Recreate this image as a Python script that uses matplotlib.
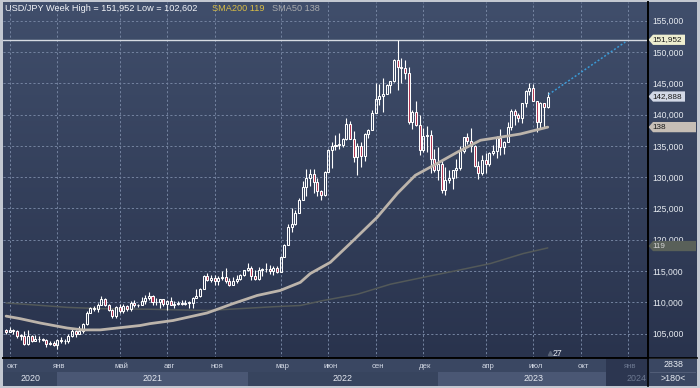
import numpy as np
import pandas as pd
import matplotlib
matplotlib.use("Agg")
import matplotlib.pyplot as plt
from matplotlib.patches import Polygon, Rectangle
from matplotlib.colors import LinearSegmentedColormap
from matplotlib.lines import Line2D
import matplotlib.transforms as mtransforms

# ---------------- data ----------------
weeks = pd.date_range("2020-09-28", periods=149, freq="W-MON")

opens = [105.6,105.3,105.6,105.4,104.7,104.65,103.35,104.6,103.85,104.1,104.15,104.0,103.3,103.5,
 103.25,103.95,103.85,103.8,104.7,105.4,104.95,105.4,106.55,108.35,109.05,108.9,109.65,110.6,109.65,108.8,
 107.9,109.3,108.6,109.35,108.95,109.85,109.5,109.65,110.2,110.75,111.05,110.1,110.05,110.55,109.7,110.25,
 109.6,109.8,109.85,109.7,109.95,109.95,110.75,111.05,112.2,114.2,113.5,113.95,113.4,113.9,114.0,113.4,
 112.8,113.4,113.7,114.4,
 115.1,115.55,114.2,113.7,115.25,115.3,115.4,115.0,115.55,114.8,117.3,119.15,122.05,122.5,124.35,126.4,
 128.5,129.85,130.55,129.2,127.85,127.1,130.9,134.4,135.0,135.2,135.2,136.1,138.55,136.1,133.25,135.0,
 133.45,136.9,137.6,140.2,142.55,142.9,143.35,144.75,145.3,148.7,147.65,147.45,146.6,138.8,140.4,138.3,
 134.3,136.6,136.7,132.9,
 131.1,132.1,127.9,129.6,129.85,131.2,131.4,134.15,136.4,135.85,135.0,131.85,130.7,132.8,132.15,133.8,
 134.15,136.3,134.85,135.7,137.95,140.6,139.95,139.4,141.8,143.7,144.3,142.1,138.8,141.8,141.15]

highs = [105.8,106.1,105.75,105.55,105.0,105.35,105.65,104.75,104.75,104.7,104.3,104.15,103.9,103.8,
 104.1,104.4,104.1,104.95,105.75,105.6,106.2,106.7,108.65,109.25,109.35,109.85,110.95,110.7,109.8,108.9,
 109.4,109.7,109.8,109.5,110.2,110.3,109.8,110.8,111.1,111.65,111.1,110.7,110.6,110.6,110.35,110.8,
 110.2,110.25,110.4,110.45,110.2,110.8,112.1,112.25,114.45,114.7,114.3,114.45,114.2,114.95,115.5,113.9,
 114.0,114.3,114.6,115.2,
 116.35,115.8,115.1,115.7,115.45,116.35,115.9,115.8,115.8,117.35,119.4,122.45,125.1,124.7,126.7,129.4,
 131.25,131.35,131.35,129.8,127.95,131.0,134.55,135.6,136.7,137.0,136.3,139.4,138.9,137.45,135.5,135.6,
 137.0,137.7,140.8,145.0,144.95,145.9,144.9,145.4,148.85,151.952,149.0,148.8,147.6,140.8,142.25,139.9,
 137.85,138.2,137.5,134.5,
 134.8,132.9,131.6,131.1,131.2,132.9,135.0,136.5,137.1,137.9,135.1,132.65,133.55,133.8,134.0,135.1,
 136.55,137.75,135.75,138.75,140.9,140.9,140.2,141.9,143.85,145.05,144.9,142.2,142.0,141.9,143.55]

lows = [104.95,105.3,104.95,104.35,104.0,103.2,103.2,103.65,103.85,103.65,103.75,102.9,103.2,102.95,
 102.602,103.5,103.35,103.55,104.5,104.45,104.9,105.1,106.4,108.35,108.6,108.4,109.6,109.4,108.6,107.5,
 107.5,108.35,108.3,108.55,108.55,109.3,109.2,109.6,109.7,110.4,109.5,109.6,109.1,109.4,108.7,109.5,
 109.1,109.6,109.6,109.6,109.1,109.1,110.7,110.8,112.2,113.4,113.3,112.75,112.7,113.6,113.05,112.55,
 112.75,113.15,113.5,114.2,
 115.0,113.5,113.5,113.5,114.15,114.9,114.6,114.4,114.7,114.8,117.2,119.1,121.3,122.4,124.3,126.3,
 126.95,128.6,127.5,126.95,126.35,127.05,130.85,131.5,134.3,134.5,134.8,136.0,136.5,132.5,130.4,131.7,
 132.6,136.2,137.6,140.2,141.6,140.35,143.3,143.5,145.2,144.0,145.1,145.7,138.5,137.7,138.1,133.6,
 134.1,134.0,130.6,130.8,
 129.5,127.5,127.2,129.0,128.1,129.8,131.2,133.9,135.3,134.1,131.7,129.65,130.4,130.6,131.8,133.5,
 133.0,133.5,133.75,135.6,137.6,138.4,138.75,138.6,141.2,143.2,142.1,137.25,137.7,138.05,141.0]

closes = [105.3,105.6,105.4,104.7,104.65,103.35,104.6,103.85,104.1,104.15,104.0,103.3,103.5,103.25,
 103.95,103.85,103.8,104.7,105.4,104.95,105.4,106.55,108.35,109.05,108.9,109.65,110.6,109.65,108.8,107.9,
 109.3,108.6,109.35,108.95,109.85,109.5,109.65,110.2,110.75,111.05,110.1,110.05,110.55,109.7,110.25,109.6,
 109.8,109.85,109.7,109.95,109.95,110.75,111.05,112.2,114.2,113.5,113.95,113.4,113.9,114.0,113.4,112.8,
 113.4,113.7,114.4,115.1,
 115.55,114.2,113.7,115.25,115.3,115.4,115.0,115.55,114.8,117.3,119.15,122.05,122.5,124.35,126.4,128.5,
 129.85,130.55,129.2,127.85,127.1,130.9,134.4,135.0,135.2,135.2,136.1,138.55,136.1,133.25,135.0,133.45,
 136.9,137.6,140.2,142.55,142.9,143.35,144.75,145.3,148.7,147.65,147.45,146.6,138.8,140.4,138.3,134.3,
 136.6,136.7,132.9,131.1,
 132.1,127.9,129.6,129.85,131.2,131.4,134.15,136.4,135.85,135.0,131.85,130.7,132.8,132.15,133.8,134.15,
 136.3,134.85,135.7,137.95,140.6,139.95,139.4,141.8,143.7,144.3,142.1,138.8,141.8,141.15,142.888]

# moving averages (week index, value)
sma50_idx = [0, 3.8, 9.3, 16.7, 21, 25.7, 30.3, 36.6, 39.3, 45.6, 54.9, 62, 68.6, 74.9, 80.4, 83.1,
             88.6, 94, 101.4, 106.9, 111.8, 117.8, 123.3, 129.6, 135.1, 140.5, 148]
sma50_val = [107.8, 107.4, 106.7, 105.9, 105.6, 105.6, 105.9, 106.3, 106.6, 107.1, 108.3, 109.8, 111.1,
             111.9, 113.2, 114.6, 116.4, 119.4, 123.6, 127.4, 130.3, 132.2, 134.0, 135.9, 136.4, 136.9, 138.0]
sma200_idx = [0, 7.4, 16.7, 25.7, 39.4, 55, 64, 73, 80.4, 86.7, 96, 105, 114, 123.3, 132.3, 141.3, 148]
sma200_val = [109.9, 109.6, 109.2, 109.0, 108.9, 108.7, 109.0, 109.3, 109.5, 110.3, 111.3, 112.9,
              114.0, 115.1, 116.2, 117.8, 118.7]

proj_idx = [148.2, 169.2]
proj_val = [143.2, 151.6]

yticks = [105, 110, 115, 120, 125, 130, 135, 140, 145, 150, 155]
ytick_labels = ["105,000", "110,000", "115,000", "120,000", "125,000", "130,000",
                "135,000", "140,000", "145,000", "150,000", "155,000"]

month_labels = ["окт", "янв", "май", "авг", "ноя", "мар", "июн", "сен", "дек", "апр", "июл", "окт", "янв"]
month_dates = ["2020-10-05", "2021-01-04", "2021-05-03", "2021-08-02", "2021-11-01", "2022-03-07",
               "2022-06-06", "2022-09-05", "2022-12-05", "2023-04-03", "2023-07-03", "2023-10-02",
               "2024-01-01"]
year_labels = ["2020", "2021", "2022", "2023", "2024"]
year_starts = ["2021-01-04", "2022-01-03", "2023-01-02", "2024-01-01"]

high_val = 151.952
low_val = 102.602
last_val = 142.888
sma50_last = 138
sma200_last = 119

# ---------------- helpers ----------------
def widx(d):
    return (pd.Timestamp(d) - weeks[0]).days / 7.0

W, H = 700, 388
def fx(px): return px / W
def fy(py): return 1 - py / H

FONT = ["Liberation Sans", "DejaVu Sans"]
plt.rcParams["font.family"] = FONT

fig = plt.figure(figsize=(7, 3.88), dpi=100, facecolor="#c3c8d1")

# gradient background for plot + right scale
bg = fig.add_axes([fx(3), fy(358), fx(697) - fx(3), fy(2) - fy(358)])
grad = np.linspace(0, 1, 256).reshape(-1, 1)
cmap = LinearSegmentedColormap.from_list("bg", ["#404e6b", "#29334d"])
bg.imshow(grad, aspect="auto", cmap=cmap, extent=[0, 1, 0, 1], origin="upper")
bg.set_axis_off()

XL = (-0.85, 175.25)
ax = fig.add_axes([fx(3), fy(357.5), fx(647.5) - fx(3), fy(2) - fy(357.5)])
ax.set_facecolor("none")
ax.set_xlim(*XL)
ax.set_ylim(101.19, 157.99)
for s in ["left", "top"]:
    ax.spines[s].set_visible(False)
ax.spines["right"].set_color("black")
ax.spines["right"].set_linewidth(1.2)
ax.spines["bottom"].set_color("black")
ax.spines["bottom"].set_linewidth(1.2)
ax.set_xticks([])
ax.yaxis.tick_right()
ax.set_yticks(yticks)
ax.set_yticklabels(ytick_labels)
ax.tick_params(axis="y", length=0, pad=3.5, labelsize=6.2, labelcolor="#e6eaf0")

grid_kw = dict(color="#7483a0", lw=0.7, linestyle=(0, (2.2, 2.2)), zorder=1)
for v in yticks:
    ax.axhline(v, **grid_kw)
month_idx = [widx(d) for d in month_dates]
for m in month_idx:
    ax.axvline(m, **grid_kw)

# SMA200 (thin) below candles
ax.plot(sma200_idx, sma200_val, color="#535959", lw=1.1, zorder=2, solid_capstyle="round")

# candles
o = np.array(opens); h = np.array(highs); l = np.array(lows); c = np.array(closes)
x = np.arange(len(o))
top = np.maximum(o, c); bot = np.minimum(o, c)
up = c >= o
ax.vlines(x, top, h, color="white", lw=0.8, zorder=3)
ax.vlines(x, l, bot, color="white", lw=0.8, zorder=3)
bw = 0.55
hgt = np.maximum(top - bot, 0.08)
ax.bar(x[up], hgt[up], bottom=bot[up], width=bw, facecolor="none", edgecolor="white",
       linewidth=0.75, zorder=4)
ax.bar(x[~up], hgt[~up], bottom=bot[~up], width=bw, facecolor="#b0304e", edgecolor="white",
       linewidth=0.75, zorder=4)

# SMA50
ax.plot(sma50_idx, sma50_val, color="#bcb4ab", lw=2.0, zorder=5, solid_capstyle="round")

# high line and projection
ax.axhline(high_val, color="#d6dae2", lw=1.0, zorder=2.5)
ax.plot(proj_idx, proj_val, color="#3a9ad6", lw=1.1, linestyle=(0, (1.3, 1.3)), zorder=5)

# "27" marker
ax.plot([len(o) - 0.4], [101.95], marker="^", ms=3, color="#5a6478", zorder=5, clip_on=False)
ax.text(len(o) + 0.3, 101.9, "27", color="#e8ecf2", fontsize=6.3, va="center", ha="left", zorder=6)

# price tags on the right scale
tr = mtransforms.blended_transform_factory(ax.transAxes, ax.transData)
axw = 647.5 - 3
def ax_x(px): return (px - 3) / axw
def tag(val, text, fc, tc, right_px):
    hh = 0.82
    pts = [(ax_x(648.5), val), (ax_x(653), val + hh), (ax_x(right_px), val + hh),
           (ax_x(right_px), val - hh), (ax_x(653), val - hh)]
    ax.add_patch(Polygon(pts, closed=True, transform=tr, facecolor=fc, edgecolor="none",
                         clip_on=False, zorder=10))
    ax.text(ax_x(652.5), val, text, transform=tr, color=tc, fontsize=5.9, va="center",
            ha="left", clip_on=False, zorder=11)

tag(high_val, "151,952", "#eeeed0", "#1a1a1a", 685)
tag(last_val, "142,888", "#d2d8e6", "#1a1a1a", 685)
tag(sma50_last, "138", "#c6beb6", "#1a1a1a", 696)
tag(sma200_last, "119", "#596059", "#d4d4d4", 696)

# title texts
fig.text(fx(5), fy(8.5), f"USD/JPY Week High = {high_val:,.3f} Low = {low_val:,.3f}".replace(".", ","),
         color="#f2f4f8", fontsize=6.6, va="center", ha="left")
fig.text(fx(212), fy(8.5), f"SMA200 {sma200_last}", color="#d9bd45", fontsize=6.6, va="center", ha="left")
fig.text(fx(272), fy(8.5), f"SMA50 {sma50_last}", color="#a9abae", fontsize=6.6, va="center", ha="left")

# ---------------- bottom time axis ----------------
bx = fig.add_axes([fx(3), fy(386), fx(647.5) - fx(3), fy(358.5) - fy(386)])
bx.set_xlim(*XL)
bx.set_ylim(0, 2)
bx.set_axis_off()
bx.add_patch(Rectangle((XL[0], 0), XL[1] - XL[0], 2, facecolor="#3a4762", edgecolor="none", zorder=0))
ys = [XL[0]] + [widx(d) for d in year_starts]
future = 163.8
band_cols = ["#37445e", "#4a5774", "#37445e", "#4a5774"]
for i in range(4):
    x0 = ys[i]; x1 = min(ys[i + 1], future)
    bx.add_patch(Rectangle((x0, 0), x1 - x0, 1.0, facecolor=band_cols[i], edgecolor="none", zorder=1))
bx.add_patch(Rectangle((future, 0), XL[1] - future, 2, facecolor="#2c3650", edgecolor="none", zorder=2))

for lab, m in zip(month_labels, month_idx):
    col = "#6c7890" if m > future else "#d2d8e4"
    bx.text(m + 0.6, 1.42, lab, color=col, fontsize=5.6, ha="center", va="center", zorder=3, clip_on=True)
for i, lab in enumerate(year_labels[:4]):
    mid = (ys[i] + ys[i + 1]) / 2
    bx.text(mid, 0.55, lab, color="#e4e8f0", fontsize=6.4, ha="center", va="center", zorder=3)
bx.text(XL[1] - 0.2, 0.55, year_labels[4], color="#6c7890", fontsize=6.4, ha="right", va="center", zorder=3)

# bottom-right box
rb = fig.add_axes([fx(648), fy(386), fx(697) - fx(648), fy(358.5) - fy(386)])
rb.set_xlim(0, 1); rb.set_ylim(0, 1)
rb.set_axis_off()
rb.add_patch(Rectangle((0, 0), 1, 1, facecolor="#3a4762", edgecolor="none"))
rb.plot([0.05, 0.95], [0.52, 0.52], color="#56627c", lw=0.6)
rb.text(0.52, 0.78, "2838", color="#e8ecf2", fontsize=6.4, ha="center", va="center")
rb.text(0.52, 0.27, ">180<", color="#e8ecf2", fontsize=6.4, ha="center", va="center")

# separator lines
fig.add_artist(Line2D([fx(3), fx(697)], [fy(358.3), fy(358.3)], color="black", lw=1.2))
fig.add_artist(Line2D([fx(647.8), fx(647.8)], [fy(2), fy(386)], color="black", lw=1.2))

fig.savefig("out.png", dpi=100, facecolor=fig.get_facecolor())
